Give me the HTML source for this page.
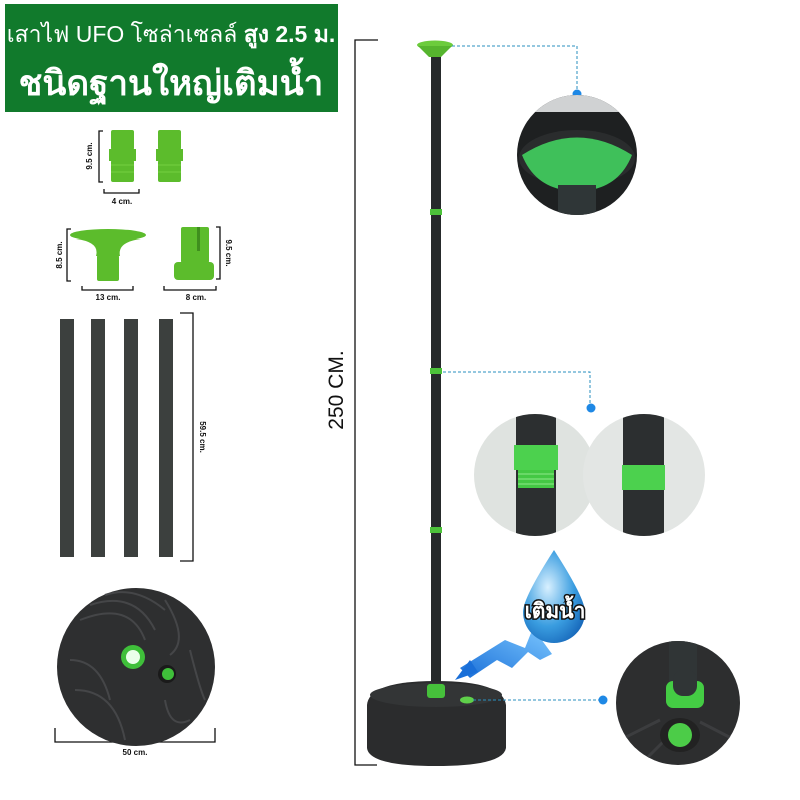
<!DOCTYPE html>
<html><head><meta charset="utf-8"><style>
html,body{margin:0;padding:0;background:#fff;}
svg{display:block;}
text{font-family:"Liberation Sans","Noto Sans CJK SC",sans-serif;}
</style></head><body>
<svg width="800" height="800" viewBox="0 0 800 800" xmlns="http://www.w3.org/2000/svg">
<defs>
<clipPath id="c1"><circle cx="577" cy="155" r="60"/></clipPath>
<clipPath id="c2"><circle cx="535" cy="475" r="61"/></clipPath>
<clipPath id="c3"><circle cx="644" cy="475" r="61"/></clipPath>
<clipPath id="c4"><circle cx="678" cy="703" r="62"/></clipPath>
<radialGradient id="drop" cx="0.4" cy="0.4" r="0.7"><stop offset="0" stop-color="#d8f0ff"/><stop offset="0.6" stop-color="#3a9de0"/><stop offset="1" stop-color="#1565b8"/></radialGradient>
<linearGradient id="arrow" x1="0" y1="1" x2="1" y2="0"><stop offset="0" stop-color="#1a6fd8"/><stop offset="1" stop-color="#7cc8ff"/></linearGradient>
</defs>

<rect x="5" y="4" width="333" height="108" fill="#117a2c"/>
<text x="171" y="42" font-size="23" fill="#fff" text-anchor="middle">เสาไฟ UFO โซล่าเซลล์ <tspan font-weight="bold">สูง 2.5 ม.</tspan></text>
<text x="171" y="95" font-size="35" fill="#fff" text-anchor="middle" font-weight="bold">ชนิดฐานใหญ่เติมน้ำ</text>

<g fill="#5cbc2c">
<rect x="111" y="130" width="23" height="20" rx="2"/><rect x="109" y="149" width="27" height="12"/><rect x="111" y="160" width="23" height="22" rx="2"/>
<rect x="158" y="130" width="23" height="20" rx="2"/><rect x="156" y="149" width="27" height="12"/><rect x="158" y="160" width="23" height="22" rx="2"/>
<ellipse cx="108" cy="235" rx="38" ry="6"/>
<path d="M76 239 Q100 242 96 256 L120 256 Q117 242 141 239 Z"/>
<rect x="97" y="255" width="22" height="26" rx="2"/>
<rect x="181" y="227" width="28" height="36" rx="2"/>
<rect x="174" y="262" width="40" height="18" rx="4"/>
</g>
<g stroke="#74d040" stroke-width="1" fill="none">
<line x1="111" y1="165" x2="134" y2="165"/><line x1="111" y1="172" x2="134" y2="172"/><line x1="158" y1="165" x2="181" y2="165"/><line x1="158" y1="172" x2="181" y2="172"/>
</g>
<rect x="197" y="227" width="3" height="24" fill="#3f8f1e"/>
<g stroke="#111" stroke-width="1.3" fill="none">
<path d="M103 131 H99 V182 H103"/><path d="M104 189 V193 H139 V189"/>
<path d="M71 229 H67 V281 H71"/><path d="M82 286 V290 H133 V286"/>
<path d="M216 227 H220 V279 H216"/><path d="M164 286 V290 H216 V286"/>
<path d="M180 313 H193 V561 H180"/>
<path d="M55 728 V742 H215 V728"/>
<path d="M378 40 H355 V765 H377"/>
</g>
<g font-size="8" fill="#111" font-weight="bold">
<text x="122" y="204" text-anchor="middle">4 cm.</text>
<text x="108" y="300" text-anchor="middle">13 cm.</text>
<text x="196" y="300" text-anchor="middle">8 cm.</text>
<text x="135" y="755" text-anchor="middle">50 cm.</text>
<text transform="translate(92,156) rotate(-90)" text-anchor="middle">9.5 cm.</text>
<text transform="translate(62,255) rotate(-90)" text-anchor="middle">8.5 cm.</text>
<text transform="translate(226,253) rotate(90)" text-anchor="middle">9.5 cm.</text>
<text transform="translate(200,437) rotate(90)" text-anchor="middle">59.5 cm.</text>
</g>
<text transform="translate(343,390) rotate(-90)" font-size="21" fill="#111" text-anchor="middle">250 CM.</text>

<g fill="#3c403e">
<rect x="60" y="319" width="14" height="238"/><rect x="91" y="319" width="14" height="238"/>
<rect x="124" y="319" width="14" height="238"/><rect x="159" y="319" width="14" height="238"/>
</g>

<circle cx="136" cy="667" r="79" fill="#2e2f30"/>
<g stroke="#454648" stroke-width="2" fill="none">
<path d="M80 620 Q130 600 145 640"/><path d="M90 605 Q135 590 155 630"/><path d="M165 600 Q190 640 170 655"/>
<path d="M75 690 Q115 690 125 740"/><path d="M165 700 Q170 730 190 720"/><path d="M105 595 Q135 585 165 610"/>
<path d="M70 660 Q100 660 110 700"/><path d="M190 650 Q200 690 205 700"/>
</g>
<circle cx="133" cy="657" r="12" fill="#3fbf3a"/><circle cx="133" cy="657" r="7" fill="#eaffea"/>
<circle cx="167" cy="674" r="9" fill="#1a1a1a"/><circle cx="168" cy="674" r="6" fill="#3fbf3a"/>

<rect x="431" y="52" width="10" height="636" fill="#262a2b"/>
<ellipse cx="435" cy="45" rx="18" ry="4.5" fill="#6ccc3c"/>
<path d="M418 46 L452 46 L441 57 L429 57 Z" fill="#56b52e"/>
<g fill="#4cc23a"><rect x="430" y="209" width="12" height="6"/><rect x="430" y="368" width="12" height="6"/><rect x="430" y="527" width="12" height="6"/></g>
<path d="M367 705 Q369 681 436 681 Q503 681 506 705 L506 748 Q503 766 436 766 Q369 766 367 748 Z" fill="#2b2c2d"/>
<ellipse cx="436" cy="695" rx="66" ry="12" fill="#333536"/>
<rect x="427" y="684" width="18" height="14" rx="3" fill="#46c13b"/>
<ellipse cx="467" cy="700" rx="7" ry="3.5" fill="#5fd04a"/>

<g stroke="#2a8fbf" stroke-width="1" stroke-dasharray="3,2" fill="none">
<path d="M452 46 H577 V93"/><path d="M443 372 H590 V406"/><path d="M473 700 H603"/>
</g>
<g fill="#1e88e5"><circle cx="577" cy="94" r="4.5"/><circle cx="591" cy="408" r="4.5"/><circle cx="603" cy="700" r="4.5"/></g>

<g clip-path="url(#c1)">
<rect x="510" y="90" width="140" height="130" fill="#1e2021"/>
<rect x="510" y="90" width="140" height="22" fill="#d0d2d3"/>
<ellipse cx="577" cy="158" rx="58" ry="28" fill="#2a2c2d"/>
<path d="M522 155 Q577 120 632 155 Q620 185 590 190 L564 190 Q534 185 522 155 Z" fill="#3fc05a"/>
<rect x="558" y="185" width="38" height="40" fill="#2f3637"/>
</g>

<g clip-path="url(#c2)">
<rect x="470" y="410" width="130" height="130" fill="#dfe3e0"/>
<rect x="516" y="410" width="40" height="130" fill="#2c2f30"/>
<rect x="514" y="445" width="44" height="25" fill="#4cd14e"/>
<rect x="518" y="470" width="36" height="18" fill="#44c844"/>
<g stroke="#8ee88a" stroke-width="1"><line x1="518" y1="474" x2="554" y2="474"/><line x1="518" y1="479" x2="554" y2="479"/><line x1="518" y1="484" x2="554" y2="484"/></g>
</g>
<g clip-path="url(#c3)">
<rect x="580" y="410" width="130" height="130" fill="#e3e6e4"/>
<rect x="623" y="410" width="41" height="130" fill="#2c2f30"/>
<rect x="622" y="465" width="43" height="25" fill="#4cd14e"/>
</g>

<g clip-path="url(#c4)">
<rect x="610" y="635" width="140" height="140" fill="#2d2e2f"/>
<path d="M620 740 L660 720 M735 740 L700 722 M640 765 L665 740" stroke="#3c3d3f" stroke-width="3"/>
<ellipse cx="680" cy="735" rx="20" ry="17" fill="#222"/>
<rect x="669" y="635" width="28" height="60" fill="#303536"/>
<rect x="666" y="681" width="38" height="27" rx="7" fill="#44cc44"/>
<rect x="673" y="670" width="24" height="26" rx="10" fill="#303536"/>
<circle cx="680" cy="735" r="12" fill="#4ccc48"/>
</g>

<path d="M460 668 L505 640 L525 648 L533 628 L552 654 L540 660 L528 652 L512 668 L497 660 L470 678 Z" fill="url(#arrow)"/>
<path d="M455 680 L470 660 L478 672 Z" fill="#1a6fd8"/>
<path d="M554 550 Q585 598 585 612 A31 31 0 0 1 523 612 Q523 598 554 550 Z" fill="url(#drop)"/>
<text x="555" y="618" font-size="21" font-weight="bold" fill="#fff" stroke="#111" stroke-width="3" paint-order="stroke" text-anchor="middle">เติมน้ำ</text>
</svg>
</body></html>
